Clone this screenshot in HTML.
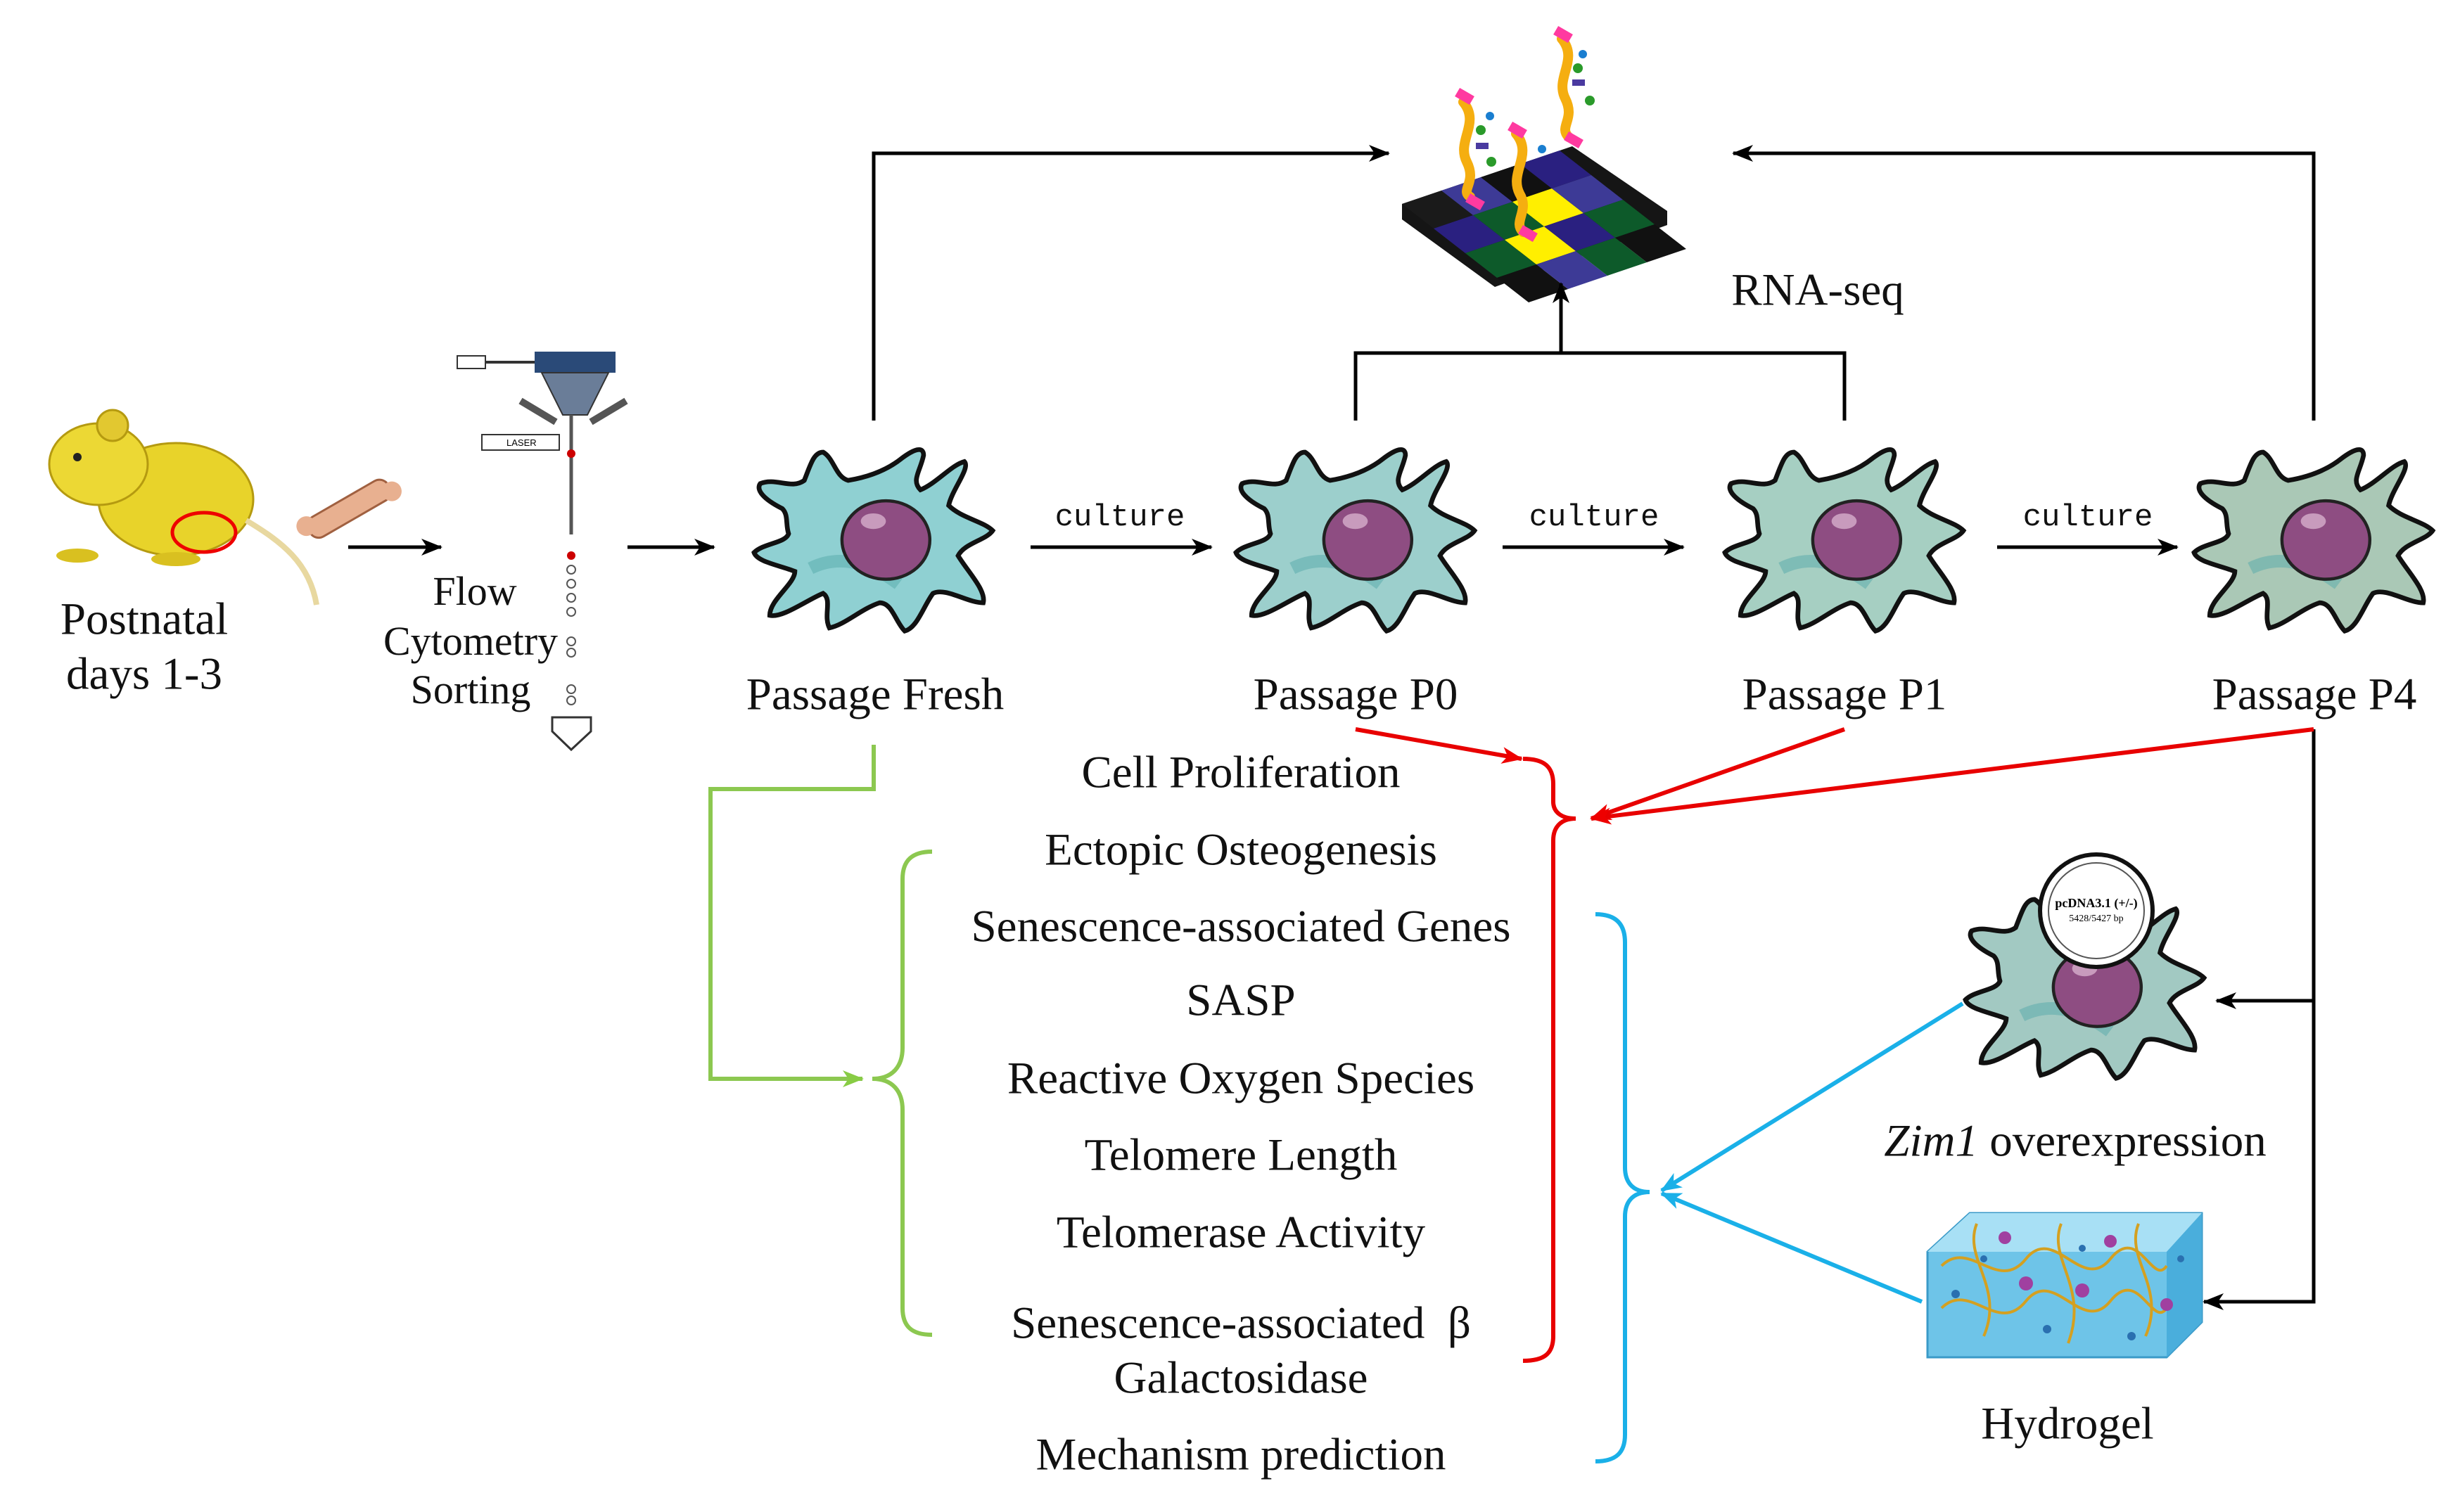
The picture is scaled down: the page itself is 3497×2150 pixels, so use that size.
<!DOCTYPE html>
<html><head><meta charset="utf-8"><style>
body{margin:0;background:#fff;}
#c{position:relative;width:3497px;height:2150px;overflow:hidden;background:#fff;font-family:"Liberation Serif",serif;}
.t{position:absolute;transform:translate(-50%,-50%);white-space:nowrap;color:#111;font-size:65px;line-height:1;}
.m{font-family:"Liberation Mono",monospace;font-size:44px;}
svg{position:absolute;left:0;top:0;}
</style></head><body><div id="c">
<svg width="3497" height="2150" viewBox="0 0 3497 2150">
<defs>
<marker id="ab" markerWidth="30" markerHeight="24" refX="28" refY="12" orient="auto" markerUnits="userSpaceOnUse"><path d="M0,0 L30,12 L0,24 L8,12Z" fill="#000"/></marker>
<marker id="ar" markerWidth="30" markerHeight="24" refX="28" refY="12" orient="auto" markerUnits="userSpaceOnUse"><path d="M0,0 L30,12 L0,24 L8,12Z" fill="#e00"/></marker>
<marker id="ag" markerWidth="30" markerHeight="24" refX="28" refY="12" orient="auto" markerUnits="userSpaceOnUse"><path d="M0,0 L30,12 L0,24 L8,12Z" fill="#8c4"/></marker>
<marker id="au" markerWidth="30" markerHeight="24" refX="28" refY="12" orient="auto" markerUnits="userSpaceOnUse"><path d="M0,0 L30,12 L0,24 L8,12Z" fill="#1ab0e8"/></marker>
<symbol id="cell" viewBox="0 0 160 125">
<path d="M22,42 C10,36 5,30 8,26 C18,22 28,30 36,24 C40,14 42,6 48,6 C55,10 56,22 64,24 C76,22 88,18 98,10 C106,4 112,2 112,8 C110,18 104,24 110,30 C120,26 130,14 138,12 C142,16 130,30 128,40 C136,48 150,50 156,56 C152,62 138,64 134,72 C140,82 152,94 150,102 C140,102 126,92 118,96 C112,104 108,118 100,120 C94,114 92,102 84,102 C72,106 62,116 52,118 C48,110 54,100 48,96 C38,100 22,112 14,110 C14,100 30,90 30,82 C20,78 6,76 4,70 C10,64 24,64 26,58 C24,52 26,46 22,42Z" fill="currentColor" stroke="#111" stroke-width="3"/>
<path d="M40,80 C60,70 80,78 96,90" stroke="#5aa" stroke-width="8" fill="none" opacity=".5"/>
<ellipse cx="88" cy="62" rx="28" ry="25" fill="#8e4d82" stroke="#222" stroke-width="2"/>
<ellipse cx="80" cy="50" rx="8" ry="5" fill="#c89bbd"/>
</symbol>
</defs>
<use href="#cell" x="1063" y="629" width="357" height="280" style="color:#8fd0d2"/>
<use href="#cell" x="1748" y="629" width="357" height="280" style="color:#9ccfcc"/>
<use href="#cell" x="2443" y="629" width="357" height="280" style="color:#a6cfc2"/>
<use href="#cell" x="3110" y="629" width="357" height="280" style="color:#aac8b6"/>
<use href="#cell" x="2785" y="1265" width="357" height="280" style="color:#a2c9c2"/>
<circle cx="2980" cy="1295" r="80" fill="#fff" stroke="#111" stroke-width="6"/>
<circle cx="2980" cy="1295" r="68" fill="none" stroke="#555" stroke-width="2"/>
<text x="2980" y="1290" font-size="18" text-anchor="middle" font-family="Liberation Serif" font-weight="bold">pcDNA3.1 (+/-)</text>
<text x="2980" y="1310" font-size="14" text-anchor="middle" font-family="Liberation Serif">5428/5427 bp</text>
<g>
<ellipse cx="250" cy="710" rx="110" ry="80" fill="#e8d32a" stroke="#b59a10" stroke-width="3"/>
<ellipse cx="140" cy="660" rx="70" ry="58" fill="#ecd834" stroke="#b59a10" stroke-width="3"/>
<circle cx="160" cy="605" r="22" fill="#e2c830" stroke="#b59a10" stroke-width="3"/>
<circle cx="110" cy="650" r="6" fill="#222"/>
<ellipse cx="110" cy="790" rx="30" ry="10" fill="#d9c020"/>
<ellipse cx="250" cy="795" rx="35" ry="10" fill="#d9c020"/>
<path d="M350,740 C400,770 440,800 450,860" stroke="#e8d8a0" stroke-width="8" fill="none"/>
<ellipse cx="290" cy="757" rx="45" ry="28" fill="none" stroke="#e00" stroke-width="5"/>
<g transform="rotate(-30 500 720)"><rect x="430" y="705" width="130" height="32" rx="14" fill="#e8b090" stroke="#a06040" stroke-width="3"/><circle cx="430" cy="712" r="14" fill="#e8b090"/><circle cx="560" cy="730" r="14" fill="#e8b090"/></g>
</g>
<g>
<rect x="760" y="500" width="115" height="30" fill="#2a4a78"/>
<path d="M770,530 L865,530 L835,590 L800,590Z" fill="#6a7d98" stroke="#333" stroke-width="2"/>
<line x1="650" y1="515" x2="760" y2="515" stroke="#333" stroke-width="4"/>
<rect x="650" y="506" width="40" height="18" fill="#fff" stroke="#333" stroke-width="2"/>
<path d="M740,570 L790,600 M890,570 L840,600" stroke="#555" stroke-width="10"/>
<line x1="812" y1="590" x2="812" y2="760" stroke="#555" stroke-width="5"/>
<rect x="685" y="618" width="110" height="22" fill="#fff" stroke="#333" stroke-width="2"/>
<text x="720" y="634" font-size="13" font-family="Liberation Sans">LASER</text>
<circle cx="812" cy="645" r="6" fill="#c00"/><circle cx="812" cy="790" r="6" fill="#c00"/>
<g fill="none" stroke="#555" stroke-width="2"><circle cx="812" cy="810" r="6"/><circle cx="812" cy="830" r="6"/><circle cx="812" cy="850" r="6"/><circle cx="812" cy="870" r="6"/><circle cx="812" cy="912" r="6"/><circle cx="812" cy="928" r="6"/><circle cx="812" cy="980" r="6"/><circle cx="812" cy="996" r="6"/></g>
<path d="M785,1020 L840,1020 L840,1040 L812,1066 L785,1040Z" fill="#fff" stroke="#333" stroke-width="3"/>
</g>
<g transform="translate(1993,290)">
<path d="M0,0 L242,-82 L377,10 L377,30 L132,118 L0,22Z" fill="#151515"/>
<g transform="matrix(0.56,-0.19,0.45,0.35,0,0)">
<rect x="0" y="0" width="100" height="100" fill="#1a1a1a"/><rect x="100" y="0" width="100" height="100" fill="#3d3a96"/><rect x="200" y="0" width="100" height="100" fill="#111"/><rect x="300" y="0" width="100" height="100" fill="#2a2080"/>
<rect x="0" y="100" width="100" height="100" fill="#2a2080"/><rect x="100" y="100" width="100" height="100" fill="#0d5a2a"/><rect x="200" y="100" width="100" height="100" fill="#ffef00"/><rect x="300" y="100" width="100" height="100" fill="#3d3a96"/>
<rect x="0" y="200" width="100" height="100" fill="#0d5a2a"/><rect x="100" y="200" width="100" height="100" fill="#ffef00"/><rect x="200" y="200" width="100" height="100" fill="#2a2080"/><rect x="300" y="200" width="100" height="100" fill="#0d5a2a"/>
<rect x="0" y="300" width="100" height="100" fill="#111"/><rect x="100" y="300" width="100" height="100" fill="#3d3a96"/><rect x="200" y="300" width="100" height="100" fill="#0d5a2a"/><rect x="300" y="300" width="100" height="100" fill="#111"/>
</g></g>
<g fill="none" stroke="#f5ae10" stroke-width="14" stroke-linecap="round">
<path d="M2080,145 C2105,175 2070,200 2085,230 C2100,260 2075,270 2090,280"/>
<path d="M2155,190 C2180,220 2145,245 2160,275 C2175,300 2150,315 2165,330"/>
<path d="M2220,55 C2245,85 2210,110 2225,140 C2240,170 2215,180 2230,195"/>
</g>
<g fill="#ff3aa0"><rect x="2070" y="130" width="24" height="14" transform="rotate(30 2082 137)"/><rect x="2145" y="178" width="24" height="14" transform="rotate(30 2157 185)"/><rect x="2210" y="42" width="24" height="14" transform="rotate(30 2222 49)"/><rect x="2225" y="192" width="24" height="14" transform="rotate(30 2237 199)"/><rect x="2085" y="280" width="24" height="14" transform="rotate(30 2097 287)"/><rect x="2160" y="325" width="24" height="14" transform="rotate(30 2172 332)"/></g>
<g><circle cx="2250" cy="77" r="6" fill="#1a7ed0"/><circle cx="2243" cy="97" r="7" fill="#2a9a2a"/><rect x="2235" y="113" width="18" height="9" fill="#4a3aa0"/><circle cx="2260" cy="143" r="7" fill="#2a9a2a"/><circle cx="2118" cy="165" r="6" fill="#1a7ed0"/><circle cx="2105" cy="185" r="7" fill="#2a9a2a"/><rect x="2098" y="203" width="18" height="9" fill="#4a3aa0"/><circle cx="2120" cy="230" r="7" fill="#2a9a2a"/><circle cx="2192" cy="212" r="6" fill="#1a7ed0"/></g>
<g>
<path d="M2740,1780 L2800,1725 L3130,1725 L3130,1880 L3080,1930 L2740,1930Z" fill="#6ec4e8" stroke="#3a9ac8" stroke-width="3"/>
<path d="M2740,1780 L2800,1725 L3130,1725 L3080,1780Z" fill="#a8e0f5"/>
<path d="M3080,1780 L3130,1725 L3130,1880 L3080,1930Z" fill="#4aaedc"/>
<g fill="none" stroke="#d4a020" stroke-width="4"><path d="M2760,1800 C2800,1760 2840,1840 2880,1790 S2960,1840 3000,1790 S3060,1830 3080,1800"/><path d="M2760,1860 C2800,1820 2840,1900 2880,1850 S2960,1900 3000,1850 S3060,1890 3080,1860"/><path d="M2810,1740 C2790,1790 2850,1830 2820,1900"/><path d="M2930,1740 C2910,1790 2970,1830 2940,1910"/><path d="M3040,1740 C3020,1790 3080,1830 3050,1900"/></g>
<g fill="#a040a0"><circle cx="2880" cy="1825" r="10"/><circle cx="2960" cy="1835" r="10"/><circle cx="3000" cy="1765" r="9"/><circle cx="2850" cy="1760" r="9"/><circle cx="3080" cy="1855" r="9"/></g>
<g fill="#2a70b0"><circle cx="2780" cy="1840" r="6"/><circle cx="2910" cy="1890" r="6"/><circle cx="3030" cy="1900" r="6"/><circle cx="2820" cy="1790" r="5"/><circle cx="3100" cy="1790" r="5"/><circle cx="2960" cy="1775" r="5"/></g>
</g>
<g stroke="#000" stroke-width="5" fill="none">
<line x1="495" y1="778" x2="627" y2="778" marker-end="url(#ab)"/>
<line x1="892" y1="778" x2="1015" y2="778" marker-end="url(#ab)"/>
<line x1="1465" y1="778" x2="1722" y2="778" marker-end="url(#ab)"/>
<line x1="2136" y1="778" x2="2393" y2="778" marker-end="url(#ab)"/>
<line x1="2839" y1="778" x2="3095" y2="778" marker-end="url(#ab)"/>
<polyline points="1242,598 1242,218 1974,218" marker-end="url(#ab)"/>
<polyline points="3289,598 3289,218 2464,218" marker-end="url(#ab)"/>
<polyline points="1927,598 1927,502 2622,502 2622,598"/>
<line x1="2219" y1="502" x2="2219" y2="403" marker-end="url(#ab)"/>
<polyline points="3289,1037 3289,1851 3133,1851" marker-end="url(#ab)"/>
<line x1="3289" y1="1423" x2="3151" y2="1423" marker-end="url(#ab)"/>
</g>
<g stroke="#8cc850" stroke-width="6" fill="none">
<polyline points="1242,1059 1242,1122 1010,1122 1010,1534 1226,1534" marker-end="url(#ag)"/>
<path d="M1325,1211 C1295,1211 1283,1225 1283,1250 L1283,1490 C1283,1515 1270,1534 1240,1534 C1270,1534 1283,1553 1283,1578 L1283,1860 C1283,1885 1295,1898 1325,1898"/>
</g>
<g stroke="#e80000" stroke-width="6" fill="none">
<line x1="1927" y1="1037" x2="2163" y2="1079" marker-end="url(#ar)"/>
<line x1="2622" y1="1037" x2="2262" y2="1164" marker-end="url(#ar)"/>
<line x1="3289" y1="1037" x2="2262" y2="1164" marker-end="url(#ar)"/>
<path d="M2165,1079 C2195,1079 2208,1090 2208,1115 L2208,1140 C2208,1155 2220,1164 2240,1164 C2220,1164 2208,1175 2208,1195 L2208,1900 C2208,1925 2195,1935 2165,1935"/>
</g>
<g stroke="#1ab0e8" stroke-width="6" fill="none">
<path d="M2268,1300 C2298,1300 2310,1315 2310,1340 L2310,1660 C2310,1680 2320,1695 2345,1695 C2320,1695 2310,1710 2310,1730 L2310,2040 C2310,2065 2298,2078 2268,2078"/>
<line x1="2790" y1="1427" x2="2362" y2="1693" marker-end="url(#au)"/>
<line x1="2732" y1="1851" x2="2362" y2="1697" marker-end="url(#au)"/>
</g>
</svg>
<div class="t" style="left:205px;top:881px">Postnatal</div>
<div class="t" style="left:205px;top:959px">days 1-3</div>
<div class="t" style="left:675px;top:841px;font-size:58px">Flow</div>
<div class="t" style="left:669px;top:912px;font-size:58px">Cytometry</div>
<div class="t" style="left:669px;top:981px;font-size:58px">Sorting</div>
<div class="t" style="left:1244px;top:988px">Passage Fresh</div>
<div class="t" style="left:1927px;top:988px">Passage P0</div>
<div class="t" style="left:2622px;top:988px">Passage P1</div>
<div class="t" style="left:3290px;top:988px">Passage P4</div>
<div class="t m" style="left:1592px;top:736px">culture</div>
<div class="t m" style="left:2266px;top:736px">culture</div>
<div class="t m" style="left:2968px;top:736px">culture</div>
<div class="t" style="left:2584px;top:413px">RNA-seq</div>
<div class="t" style="left:1764px;top:1099px">Cell Proliferation</div>
<div class="t" style="left:1764px;top:1209px">Ectopic Osteogenesis</div>
<div class="t" style="left:1764px;top:1318px">Senescence-associated Genes</div>
<div class="t" style="left:1764px;top:1423px">SASP</div>
<div class="t" style="left:1764px;top:1534px">Reactive Oxygen Species</div>
<div class="t" style="left:1764px;top:1643px">Telomere Length</div>
<div class="t" style="left:1764px;top:1753px">Telomerase Activity</div>
<div class="t" style="left:1764px;top:1882px">Senescence-associated &nbsp;β</div>
<div class="t" style="left:1764px;top:1960px">Galactosidase</div>
<div class="t" style="left:1764px;top:2069px">Mechanism prediction</div>
<div class="t" style="left:2950px;top:1623px"><i>Zim1</i> overexpression</div>
<div class="t" style="left:2939px;top:2025px">Hydrogel</div>
</div></body></html>
